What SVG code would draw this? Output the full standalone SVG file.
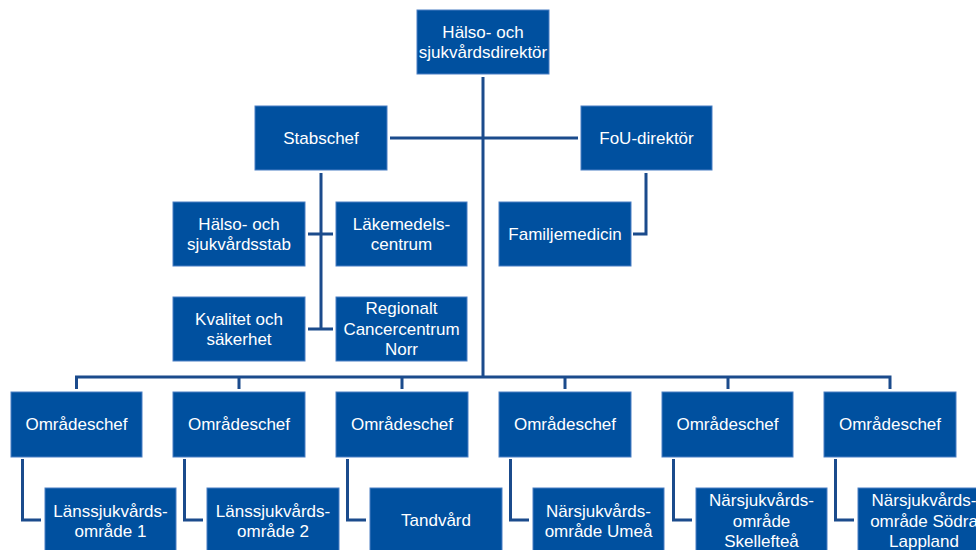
<svg xmlns="http://www.w3.org/2000/svg" width="976" height="550" viewBox="0 0 976 550">
<style>
.box{fill:#00509F;stroke:#4A7FC4;stroke-width:1}
.t{font-family:"Liberation Sans",Arial,sans-serif;font-size:17px;fill:#FFFFFF;text-anchor:middle}
.c{fill:none;stroke:#1B4B8C;stroke-width:3}
</style>
<rect width="976" height="550" fill="#FFFFFF"/>
<g id="connectors">
<path class="c" d="M483,77 V377"/>
<path class="c" d="M390,138 H578"/>
<path class="c" d="M76.5,389 V377 H890 V389"/>
<path class="c" d="M239,377 V389 M402,377 V389 M565,377 V389 M728,377 V389"/>
<path class="c" d="M321,173 V330 M308,234 H333 M308,329 H333"/>
<path class="c" d="M646,173 V234 H633"/>
<path class="c" d="M22.5,459 V520 H41"/>
<path class="c" d="M184.5,459 V520 H203"/>
<path class="c" d="M347.5,459 V520 H366"/>
<path class="c" d="M510.5,459 V520 H529"/>
<path class="c" d="M673.5,459 V520 H692"/>
<path class="c" d="M835.5,459 V520 H854"/>
</g>
<g id="n-direktor"><rect class="box" x="417" y="10" width="132" height="64"/><text class="t" x="483" y="38">Hälso- och</text><text class="t" x="483" y="58">sjukvårdsdirektör</text></g>
<g id="n-stabschef"><rect class="box" x="255" y="106" width="132" height="64"/><text class="t" x="321" y="144">Stabschef</text></g>
<g id="n-fou"><rect class="box" x="581" y="106" width="131" height="64"/><text class="t" x="646.5" y="144">FoU-direktör</text></g>
<g id="n-hsstab"><rect class="box" x="173" y="202" width="132" height="64"/><text class="t" x="239" y="230">Hälso- och</text><text class="t" x="239" y="250">sjukvårdsstab</text></g>
<g id="n-lakemedel"><rect class="box" x="336" y="202" width="131" height="64"/><text class="t" x="401.5" y="230">Läkemedels-</text><text class="t" x="401.5" y="250">centrum</text></g>
<g id="n-familj"><rect class="box" x="499" y="202" width="132" height="64"/><text class="t" x="565" y="240">Familjemedicin</text></g>
<g id="n-kvalitet"><rect class="box" x="173" y="297" width="132" height="64"/><text class="t" x="239" y="325">Kvalitet och</text><text class="t" x="239" y="345">säkerhet</text></g>
<g id="n-rcc"><rect class="box" x="336" y="297" width="131" height="64"/><text class="t" x="401.5" y="314">Regionalt</text><text class="t" x="401.5" y="334.5">Cancercentrum</text><text class="t" x="401.5" y="355">Norr</text></g>
<g id="n-oc1"><rect class="box" x="11" y="392" width="131" height="65"/><text class="t" x="76.5" y="430">Områdeschef</text></g>
<g id="n-oc2"><rect class="box" x="173" y="392" width="132" height="65"/><text class="t" x="239" y="430">Områdeschef</text></g>
<g id="n-oc3"><rect class="box" x="336" y="392" width="132" height="65"/><text class="t" x="402" y="430">Områdeschef</text></g>
<g id="n-oc4"><rect class="box" x="499" y="392" width="132" height="65"/><text class="t" x="565" y="430">Områdeschef</text></g>
<g id="n-oc5"><rect class="box" x="662" y="392" width="131" height="65"/><text class="t" x="727.5" y="430">Områdeschef</text></g>
<g id="n-oc6"><rect class="box" x="824" y="392" width="132" height="65"/><text class="t" x="890" y="430">Områdeschef</text></g>
<g id="n-lso1"><rect class="box" x="45" y="488" width="131" height="66"/><text class="t" x="110.5" y="516.5">Länssjukvårds-</text><text class="t" x="110.5" y="536.5">område 1</text></g>
<g id="n-lso2"><rect class="box" x="207" y="488" width="132" height="66"/><text class="t" x="273" y="516.5">Länssjukvårds-</text><text class="t" x="273" y="536.5">område 2</text></g>
<g id="n-tand"><rect class="box" x="370" y="488" width="132" height="66"/><text class="t" x="436" y="526">Tandvård</text></g>
<g id="n-umea"><rect class="box" x="533" y="488" width="131" height="66"/><text class="t" x="598.5" y="516.5">Närsjukvårds-</text><text class="t" x="598.5" y="536.5">område Umeå</text></g>
<g id="n-skel"><rect class="box" x="696" y="488" width="131" height="66"/><text class="t" x="761.5" y="506">Närsjukvårds-</text><text class="t" x="761.5" y="526.5">område</text><text class="t" x="761.5" y="547">Skellefteå</text></g>
<g id="n-sodra"><rect class="box" x="858" y="488" width="132" height="66"/><text class="t" x="924" y="506">Närsjukvårds-</text><text class="t" x="924" y="526.5">område Södra</text><text class="t" x="924" y="547">Lappland</text></g>
</svg>
